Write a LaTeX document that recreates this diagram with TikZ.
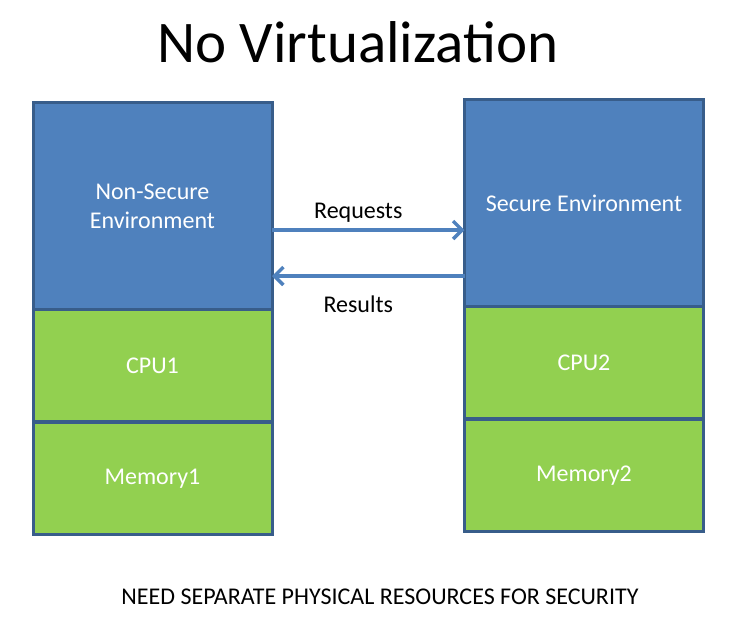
\documentclass[tikz,border=0pt]{standalone}
\usepackage{fontspec}
\setmainfont{Carlito}
\usetikzlibrary{positioning,arrows.meta}

\definecolor{envblue}{HTML}{4F81BD}
\definecolor{edgeblue}{HTML}{385D8A}
\definecolor{resgreen}{HTML}{92D050}

\begin{document}
\begin{tikzpicture}[
    x=1pt, y=-1pt,
    node distance=0pt,
    env/.style={rectangle, draw=edgeblue, fill=envblue, line width=3pt,
                minimum width=239pt, minimum height=207pt, inner sep=0pt,
                outer sep=0pt, text=white, font=\fontsize{24}{29}\selectfont,
                align=center},
    res/.style={rectangle, draw=edgeblue, fill=resgreen, line width=3pt,
                minimum width=239pt, minimum height=112pt, inner sep=0pt,
                outer sep=0pt, text=white, font=\fontsize{24}{29}\selectfont},
    msg/.style={draw=envblue, line width=3.5pt,
                -{Straight Barb[length=9pt, width=18pt]}},
    lbl/.style={font=\fontsize{24}{29}\selectfont},
]
\useasboundingbox (0,0) rectangle (738,630);

% --- title ---
\node[font=\fontsize{59}{66}\selectfont] (title) at (358,42) {No Virtualization};

% --- non-secure side (left) ---
\node[env] (nonsec) at (152.5,206) {Non-Secure\\Environment};
\node[res, below=0pt of nonsec] (cpu1) {CPU1};
\node[res, below=1pt of cpu1]   (mem1) {Memory1};

% --- secure side (right) ---
\node[env] (sec) at (584,203) {Secure Environment};
\node[res, below=0pt of sec] (cpu2) {CPU2};
\node[res, below=1pt of cpu2] (mem2) {Memory2};

% --- requests / results ---
\draw[msg] ([yshift=-24pt]nonsec.east) -- ([yshift=-27pt]sec.west)
    node[lbl, midway, above=3pt, xshift=-10pt] (req) {Requests};
\draw[msg] ([yshift=-73pt]sec.west) -- ([yshift=-70pt]nonsec.east)
    node[lbl, midway, below=15pt, xshift=-10pt] (resl) {Results};

% --- caption ---
\node[font=\fontsize{24}{29}\selectfont] (note) at (380,597)
    {NEED SEPARATE PHYSICAL RESOURCES FOR SECURITY};

\end{tikzpicture}
\end{document}
